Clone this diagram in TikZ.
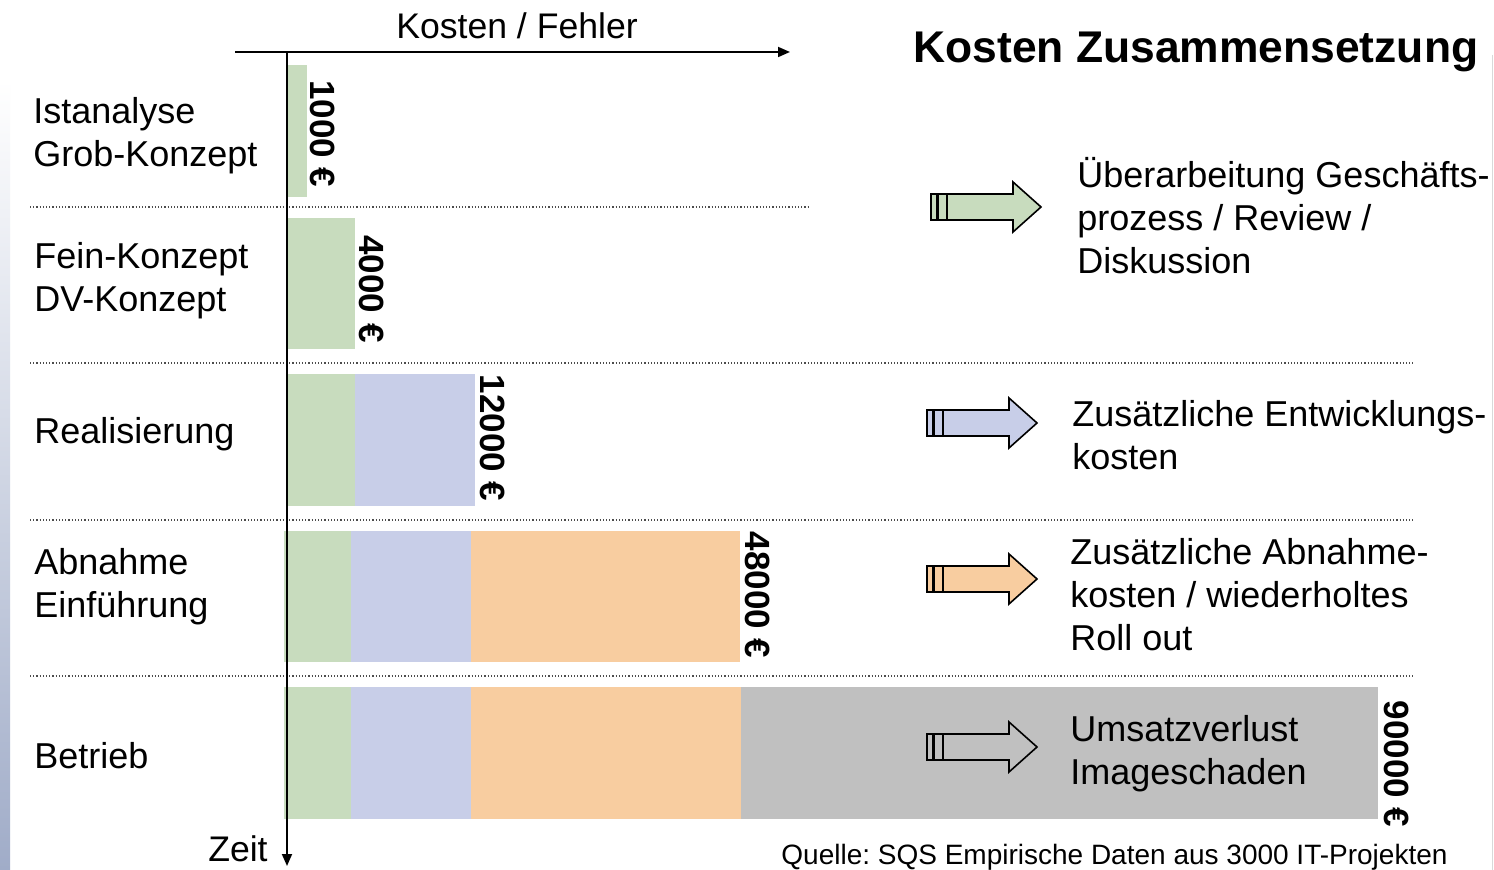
\documentclass[tikz,border=0pt]{standalone}
\usepackage{fontspec}
\setmainfont{Liberation Sans}
\usetikzlibrary{arrows.meta}
\definecolor{cgreen}{HTML}{C8DCBE}
\definecolor{cblue}{HTML}{C8CEE8}
\definecolor{corange}{HTML}{F8CDA0}
\definecolor{cgray}{HTML}{C0C0C0}
\definecolor{cstrip}{HTML}{A0ACC8}
\frenchspacing
\tikzset{
  sep/.style={densely dotted, line width=0.6pt, black!70},
  axis/.style={line width=0.9pt, -{Triangle[length=6pt,width=5pt]}},
  lbl/.style={anchor=west, align=left, inner sep=0pt, font=\fontsize{18}{21.5}\selectfont},
  val/.style={rotate=-90, inner sep=0pt, font=\fontsize{17.5}{21}\selectfont\bfseries},
  barrow/.pic={
    \draw[line width=0.8pt, fill=#1] (1,-13) rectangle (7,13);
    \draw[line width=0.8pt, fill=#1] (8,-13) rectangle (17,13);
    \draw[line width=0.8pt, fill=#1, line join=miter] (17,-13) -- (83,-13) -- (83,-25) -- (111,0) -- (83,25) -- (83,13) -- (17,13) -- cycle;
  }
}
\begin{document}
\begin{tikzpicture}[x=0.5pt, y=-0.5pt]
\useasboundingbox (0,0) rectangle (1494,870);
\fill[white] (0,0) rectangle (1494,870);
% left shaded strip
\shade[top color=white, bottom color=cstrip] (0,80) rectangle (10,870);
\draw[black!15, line width=0.5pt] (1492,55) -- (1492,870);

% bars
\fill[cgreen] (287,65) rectangle (307,197);
\fill[cgreen] (287,218) rectangle (355,349);
\fill[cgreen] (287,374) rectangle (355,506);
\fill[cblue]  (355,374) rectangle (475,506);
\fill[cgreen] (284,531) rectangle (351,662);
\fill[cblue]  (351,531) rectangle (471,662);
\fill[corange](471,531) rectangle (740,662);
\fill[cgreen] (284,687) rectangle (351,819);
\fill[cblue]  (351,687) rectangle (471,819);
\fill[corange](471,687) rectangle (741,819);
\fill[cgray]  (741,687) rectangle (1378,819);

% separators
\draw[sep] (30,207) -- (810,207);
\draw[sep] (30,363) -- (1413,363);
\draw[sep] (30,520) -- (1413,520);
\draw[sep] (30,676) -- (1413,676);

% axes
\coordinate (hx0) at (235,52);
\coordinate (hx1) at (790,52);
\coordinate (vy0) at (287,52);
\coordinate (vy1) at (287,866);
\draw[axis] (hx0) -- (hx1);
\draw[axis] (vy0) -- (vy1);
\node[inner sep=0pt, font=\fontsize{17.8}{21}\selectfont] (kf) at (517,26) {Kosten / Fehler};
\node[inner sep=0pt, font=\fontsize{17.8}{21}\selectfont, anchor=east] (zeit) at (268,849) {Zeit};

% title
\node[inner sep=0pt, anchor=west, font=\fontsize{22.2}{26}\selectfont\bfseries] (title) at (913,52) {Kosten Zusammensetzung};

% left labels
\node[lbl] (l1) at (33,136) {Istanalyse\\Grob-Konzept};
\node[lbl] (l2) at (34,281) {Fein-Konzept\\DV-Konzept};
\node[lbl] (l3) at (34,434) {Realisierung};
\node[lbl] (l4) at (34,587) {Abnahme\\Einführung};
\node[lbl] (l5) at (34,756) {Betrieb};

% values
\node[val] (v1) at (323,134) {1000 €};
\node[val] (v2) at (372,289) {4000 €};
\node[val] (v3) at (493,438) {12000 €};
\node[val] (v4) at (758,595) {48000 €};
\node[val] (v5) at (1397,764) {90000 €};

% block arrows
\pic at (930,207) {barrow=cgreen};
\pic at (926,423) {barrow=cblue};
\pic at (926,579) {barrow=corange};
\pic at (926,747) {barrow=cgray};

% right texts
\node[lbl] (r1) at (1077,216) {Überarbeitung Geschäfts-\\prozess / Review /\\Diskussion};
\node[lbl] (r2) at (1072,435) {Zusätzliche Entwicklungs-\\kosten};
\node[lbl] (r3) at (1070,595) {Zusätzliche Abnahme-\\kosten / wiederholtes\\Roll out};
\node[lbl] (r4) at (1070,754) {Umsatzverlust\\Imageschaden};

% source
\node[inner sep=0pt, anchor=west, font=\fontsize{14}{16}\selectfont] (src) at (781,857) {Quelle: SQS Empirische Daten aus 3000 IT-Projekten};
\end{tikzpicture}
\end{document}
